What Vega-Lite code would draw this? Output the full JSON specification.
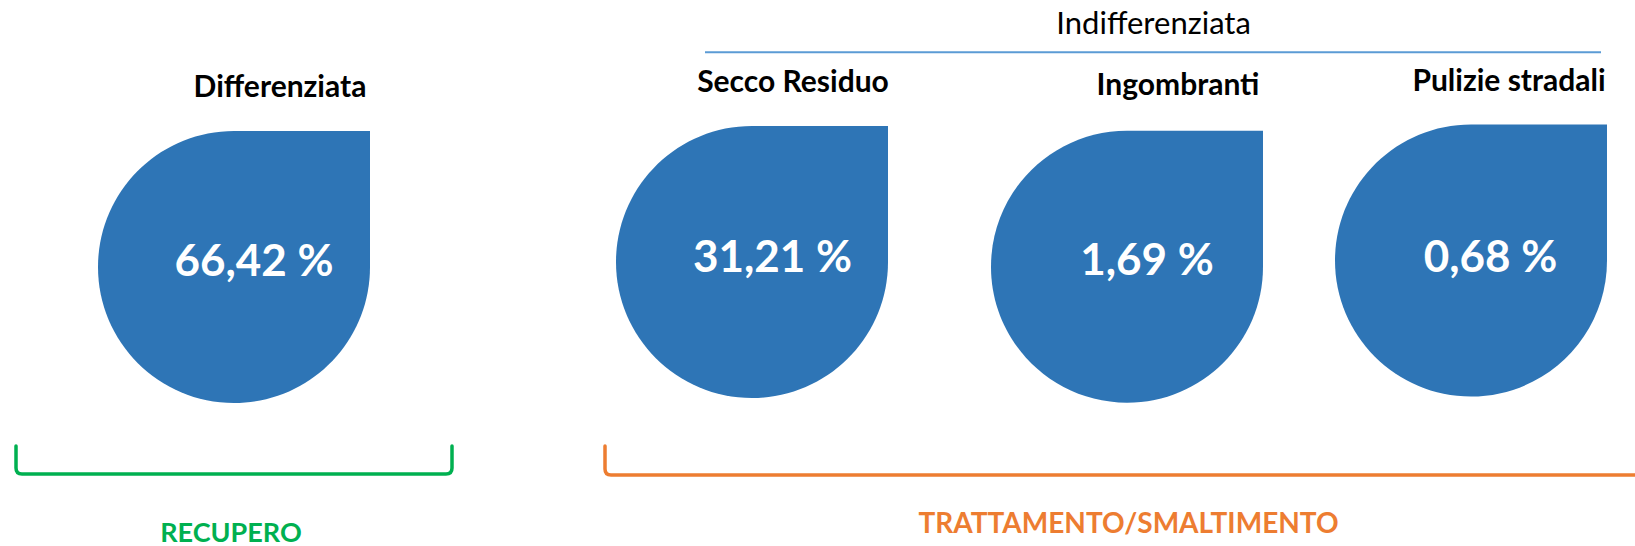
{
  "$schema": "https://vega.github.io/schema/vega-lite/v6.json",
  "padding": 0,
  "spacing": 0,
  "bounds": "flush",
  "config": {
    "view": {"stroke": null},
    "font": "Lato",
    "locale": {"number": {"decimal": ",", "thousands": ".", "grouping": [3], "currency": ["", " €"], "percent": " %"}}
  },
  "datasets": {
    "voci": [
      {"voce": "Differenziata", "categoria": "Differenziata", "destinazione": "RECUPERO", "quota": 0.6642},
      {"voce": "Secco Residuo", "categoria": "Indifferenziata", "destinazione": "TRATTAMENTO/SMALTIMENTO", "quota": 0.3121},
      {"voce": "Ingombranti", "categoria": "Indifferenziata", "destinazione": "TRATTAMENTO/SMALTIMENTO", "quota": 0.0169},
      {"voce": "Pulizie stradali", "categoria": "Indifferenziata", "destinazione": "TRATTAMENTO/SMALTIMENTO", "quota": 0.0068}
    ]
  },
  "hconcat": [
    {
      "width": 468, "height": 546,
      "data": {"name": "voci"},
      "transform": [{"filter": "datum.voce === 'Differenziata'"}],
      "layer": [
        {"mark": {"type": "text", "fontSize": 30, "fontWeight": "bold", "color": "#000000", "baseline": "alphabetic", "dx": 46, "dy": -176}, "encoding": {"text": {"field": "voce"}}},
        {"mark": {"type": "point", "shape": "M -1 0 C -1 0.5523 -0.5523 1 0 1 C 0.5523 1 1 0.5523 1 0 L 1 -1 L 0 -1 C -0.5523 -1 -1 -0.5523 -1 0 Z", "size": 73984, "filled": true, "opacity": 1, "color": "#2E75B6", "strokeWidth": 0, "yOffset": -6}, "encoding": {}},
        {"mark": {"type": "text", "fontSize": 44, "fontWeight": "bold", "color": "#ffffff", "baseline": "alphabetic", "dx": 20, "dy": 3}, "encoding": {"text": {"field": "quota", "type": "quantitative", "format": ".2%"}}},
        {"mark": {"type": "point", "shape": "M -1 -0.0642 L -1 0.0367 Q -1 0.0642 -0.9725 0.0642 L 0.9725 0.0642 Q 1 0.0642 1 0.0367 L 1 -0.0642", "size": 190096, "filled": false, "opacity": 1, "color": "#00B050", "strokeWidth": 3.5, "strokeCap": "round", "strokeJoin": "round", "yOffset": 187}, "encoding": {}},
        {"mark": {"type": "text", "fontSize": 27, "fontWeight": "bold", "color": "#00B050", "baseline": "alphabetic", "dx": -3, "dy": 269}, "encoding": {"text": {"field": "destinazione"}}}
      ]
    },
    {
      "width": 568, "height": 546,
      "data": {"name": "voci"},
      "transform": [{"filter": "datum.voce === 'Secco Residuo'"}],
      "layer": [
        {"mark": {"type": "text", "fontSize": 31, "fontWeight": "normal", "color": "#000000", "baseline": "alphabetic", "dx": 401.6, "dy": -238.7}, "encoding": {"text": {"field": "categoria"}}},
        {"mark": {"type": "point", "shape": "M -1 0 L 1 0", "size": 802816, "filled": false, "opacity": 1, "color": "#5B9BD5", "strokeWidth": 2, "xOffset": 401, "yOffset": -220.7}, "encoding": {}},
        {"mark": {"type": "text", "fontSize": 30, "fontWeight": "bold", "color": "#000000", "baseline": "alphabetic", "dx": 41, "dy": -181}, "encoding": {"text": {"field": "voce"}}},
        {"mark": {"type": "point", "shape": "M -1 0 C -1 0.5523 -0.5523 1 0 1 C 0.5523 1 1 0.5523 1 0 L 1 -1 L 0 -1 C -0.5523 -1 -1 -0.5523 -1 0 Z", "size": 73984, "filled": true, "opacity": 1, "color": "#2E75B6", "strokeWidth": 0, "yOffset": -11}, "encoding": {}},
        {"mark": {"type": "text", "fontSize": 44, "fontWeight": "bold", "color": "#ffffff", "baseline": "alphabetic", "dx": 20.5, "dy": -1}, "encoding": {"text": {"field": "quota", "type": "quantitative", "format": ".2%"}}},
        {"mark": {"type": "point", "shape": "M -1 -0.0282 L -1 0.0165 Q -1 0.0282 -0.9883 0.0282 L 1 0.0282", "size": 1060900, "filled": false, "opacity": 1, "color": "#ED7D31", "strokeWidth": 3.5, "strokeCap": "round", "strokeJoin": "round", "xOffset": 368, "yOffset": 187.5}, "encoding": {}},
        {"mark": {"type": "text", "fontSize": 28, "fontWeight": "bold", "color": "#ED7D31", "baseline": "alphabetic", "dx": 376.5, "dy": 260}, "encoding": {"text": {"field": "destinazione"}}}
      ]
    },
    {
      "width": 182, "height": 546,
      "data": {"name": "voci"},
      "transform": [{"filter": "datum.voce === 'Ingombranti'"}],
      "layer": [
        {"mark": {"type": "text", "fontSize": 30, "fontWeight": "bold", "color": "#000000", "baseline": "alphabetic", "dx": 51, "dy": -178}, "encoding": {"text": {"field": "voce"}}},
        {"mark": {"type": "point", "shape": "M -1 0 C -1 0.5523 -0.5523 1 0 1 C 0.5523 1 1 0.5523 1 0 L 1 -1 L 0 -1 C -0.5523 -1 -1 -0.5523 -1 0 Z", "size": 73984, "filled": true, "opacity": 1, "color": "#2E75B6", "strokeWidth": 0, "yOffset": -6.3}, "encoding": {}},
        {"mark": {"type": "text", "fontSize": 44, "fontWeight": "bold", "color": "#ffffff", "baseline": "alphabetic", "dx": 20, "dy": 2}, "encoding": {"text": {"field": "quota", "type": "quantitative", "format": ".2%"}}}
      ]
    },
    {
      "width": 417, "height": 546,
      "data": {"name": "voci"},
      "transform": [{"filter": "datum.voce === 'Pulizie stradali'"}],
      "layer": [
        {"mark": {"type": "text", "fontSize": 30, "fontWeight": "bold", "color": "#000000", "baseline": "alphabetic", "dx": 82.5, "dy": -182}, "encoding": {"text": {"field": "voce"}}},
        {"mark": {"type": "point", "shape": "M -1 0 C -1 0.5523 -0.5523 1 0 1 C 0.5523 1 1 0.5523 1 0 L 1 -1 L 0 -1 C -0.5523 -1 -1 -0.5523 -1 0 Z", "size": 73984, "filled": true, "opacity": 1, "color": "#2E75B6", "strokeWidth": 0, "xOffset": 44.5, "yOffset": -12.5}, "encoding": {}},
        {"mark": {"type": "text", "fontSize": 44, "fontWeight": "bold", "color": "#ffffff", "baseline": "alphabetic", "dx": 64, "dy": -1}, "encoding": {"text": {"field": "quota", "type": "quantitative", "format": ".2%"}}}
      ]
    }
  ]
}
